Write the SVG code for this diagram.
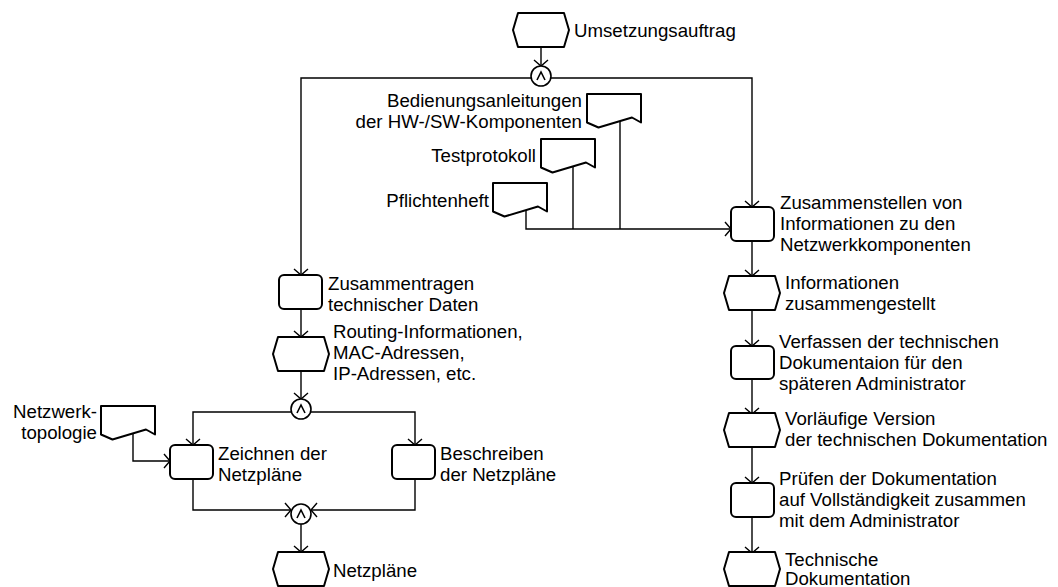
<svg xmlns="http://www.w3.org/2000/svg" width="1058" height="587" viewBox="0 0 1058 587">
  <defs>
    <style>
      .shape { fill: #ffffff; stroke: #000000; stroke-width: 2; stroke-linejoin: round; }
      .conn { fill: none; stroke: #000000; stroke-width: 1.4; }
      .op { fill: #ffffff; stroke: #000000; stroke-width: 1.6; }
      .sym { fill: none; stroke: #000000; stroke-width: 1.6; }
      text { font-family: "Liberation Sans", Arial, sans-serif; font-size: 18.67px; fill: #000000; }
      .r { text-anchor: end; }
    </style>
    <marker id="arrow" viewBox="-8 -9 10 18" markerWidth="10" markerHeight="18" refX="0" refY="0" markerUnits="userSpaceOnUse" orient="auto">
      <path d="M-6,-7 L0,0 L-6,7" fill="none" stroke="#000000" stroke-width="1.4"/>
    </marker>
    <!-- event: flat hexagon 56x34 -->
    <path id="event" d="M5,0 L51,0 L56,17 L51,34 L5,34 L0,17 Z"/>
    <!-- document: wavy bottom edge -->
    <path id="doc" d="M0,0 L54,0 L54,28.5 L45,23.5 L11.5,33.5 L0,28.5 Z"/>
  </defs>

  <rect width="1058" height="587" fill="#ffffff"/>

  <!-- connectors -->
  <g id="connectors" class="conn">
    <!-- start event to AND split -->
    <path d="M541,47 V66" marker-end="url(#arrow)"/>
    <path d="M531,78 H301 V275" marker-end="url(#arrow)"/>
    <path d="M551,78 H752 V207" marker-end="url(#arrow)"/>
    <!-- documents to Zusammenstellen -->
    <path d="M620,121 V229"/>
    <path d="M573,166 V229"/>
    <path d="M526,210 V229 H731" marker-end="url(#arrow)"/>
    <!-- left branch -->
    <path d="M301,309 V337" marker-end="url(#arrow)"/>
    <path d="M301,370 V399" marker-end="url(#arrow)"/>
    <path d="M291,412 H193 V445" marker-end="url(#arrow)"/>
    <path d="M311,412 H415 V445" marker-end="url(#arrow)"/>
    <path d="M133,433 V461 H170" marker-end="url(#arrow)"/>
    <path d="M193,479 V510 H291" marker-end="url(#arrow)"/>
    <path d="M415,479 V510 H311" marker-end="url(#arrow)"/>
    <path d="M301,524 V552" marker-end="url(#arrow)"/>
    <!-- right branch -->
    <path d="M752,241 V276" marker-end="url(#arrow)"/>
    <path d="M752,310 V346" marker-end="url(#arrow)"/>
    <path d="M752,379 V414" marker-end="url(#arrow)"/>
    <path d="M752,447 V483" marker-end="url(#arrow)"/>
    <path d="M752,517 V553" marker-end="url(#arrow)"/>
  </g>

  <!-- AND operators -->
  <g id="and-split-top">
    <circle class="op" cx="541" cy="76" r="10"/>
    <polyline class="sym" points="537,80 541,72 545,80"/>
  </g>
  <g id="and-split-left">
    <circle class="op" cx="301" cy="409" r="10"/>
    <polyline class="sym" points="297,413 301,405 305,413"/>
  </g>
  <g id="and-join-left">
    <circle class="op" cx="301" cy="514" r="10"/>
    <polyline class="sym" points="297,518 301,510 305,518"/>
  </g>

  <!-- start event -->
  <g id="umsetzungsauftrag">
    <use href="#event" class="shape" x="513" y="13"/>
    <text x="574" y="37">Umsetzungsauftrag</text>
  </g>

  <!-- input documents -->
  <g id="bedienungsanleitungen">
    <use href="#doc" class="shape" x="587" y="94"/>
    <text class="r" x="582" y="107">Bedienungsanleitungen</text>
    <text class="r" x="582" y="128">der HW-/SW-Komponenten</text>
  </g>
  <g id="testprotokoll">
    <use href="#doc" class="shape" x="541" y="139"/>
    <text class="r" x="536" y="162">Testprotokoll</text>
  </g>
  <g id="pflichtenheft">
    <use href="#doc" class="shape" x="493" y="183"/>
    <text class="r" x="489" y="207">Pflichtenheft</text>
  </g>
  <g id="netzwerktopologie">
    <use href="#doc" class="shape" x="101" y="406"/>
    <text class="r" x="97" y="418">Netzwerk-</text>
    <text class="r" x="97" y="439">topologie</text>
  </g>

  <!-- left branch -->
  <g id="zusammentragen">
    <rect class="shape" x="279" y="275" width="43" height="34" rx="5"/>
    <text x="328" y="290">Zusammentragen</text>
    <text x="328" y="311">technischer Daten</text>
  </g>
  <g id="routing-informationen">
    <use href="#event" class="shape" x="273" y="337"/>
    <text x="333" y="338">Routing-Informationen,</text>
    <text x="333" y="359">MAC-Adressen,</text>
    <text x="333" y="380">IP-Adressen, etc.</text>
  </g>
  <g id="zeichnen">
    <rect class="shape" x="170" y="445" width="43" height="34" rx="5"/>
    <text x="218" y="460">Zeichnen der</text>
    <text x="218" y="481">Netzpläne</text>
  </g>
  <g id="beschreiben">
    <rect class="shape" x="392" y="445" width="43" height="34" rx="5"/>
    <text x="440" y="460">Beschreiben</text>
    <text x="440" y="481">der Netzpläne</text>
  </g>
  <g id="netzplaene">
    <use href="#event" class="shape" x="273" y="552"/>
    <text x="333" y="577">Netzpläne</text>
  </g>

  <!-- right branch -->
  <g id="zusammenstellen">
    <rect class="shape" x="731" y="207" width="43" height="34" rx="5"/>
    <text x="780" y="209">Zusammenstellen von</text>
    <text x="780" y="230">Informationen zu den</text>
    <text x="780" y="251">Netzwerkkomponenten</text>
  </g>
  <g id="informationen-zusammengestellt">
    <use href="#event" class="shape" x="724" y="276"/>
    <text x="785" y="289">Informationen</text>
    <text x="785" y="310">zusammengestellt</text>
  </g>
  <g id="verfassen">
    <rect class="shape" x="731" y="346" width="43" height="33" rx="5"/>
    <text x="779" y="348">Verfassen der technischen</text>
    <text x="779" y="369">Dokumentaion für den</text>
    <text x="779" y="390">späteren Administrator</text>
  </g>
  <g id="vorlaeufige-version">
    <use href="#event" class="shape" x="724" y="413"/>
    <text x="785" y="425">Vorläufige Version</text>
    <text x="785" y="446">der technischen Dokumentation</text>
  </g>
  <g id="pruefen">
    <rect class="shape" x="731" y="483" width="43" height="34" rx="5"/>
    <text x="779" y="485">Prüfen der Dokumentation</text>
    <text x="779" y="506">auf Vollständigkeit zusammen</text>
    <text x="779" y="527">mit dem Administrator</text>
  </g>
  <g id="technische-dokumentation">
    <use href="#event" class="shape" x="724" y="552"/>
    <text x="785" y="566">Technische</text>
    <text x="785" y="585">Dokumentation</text>
  </g>
</svg>
